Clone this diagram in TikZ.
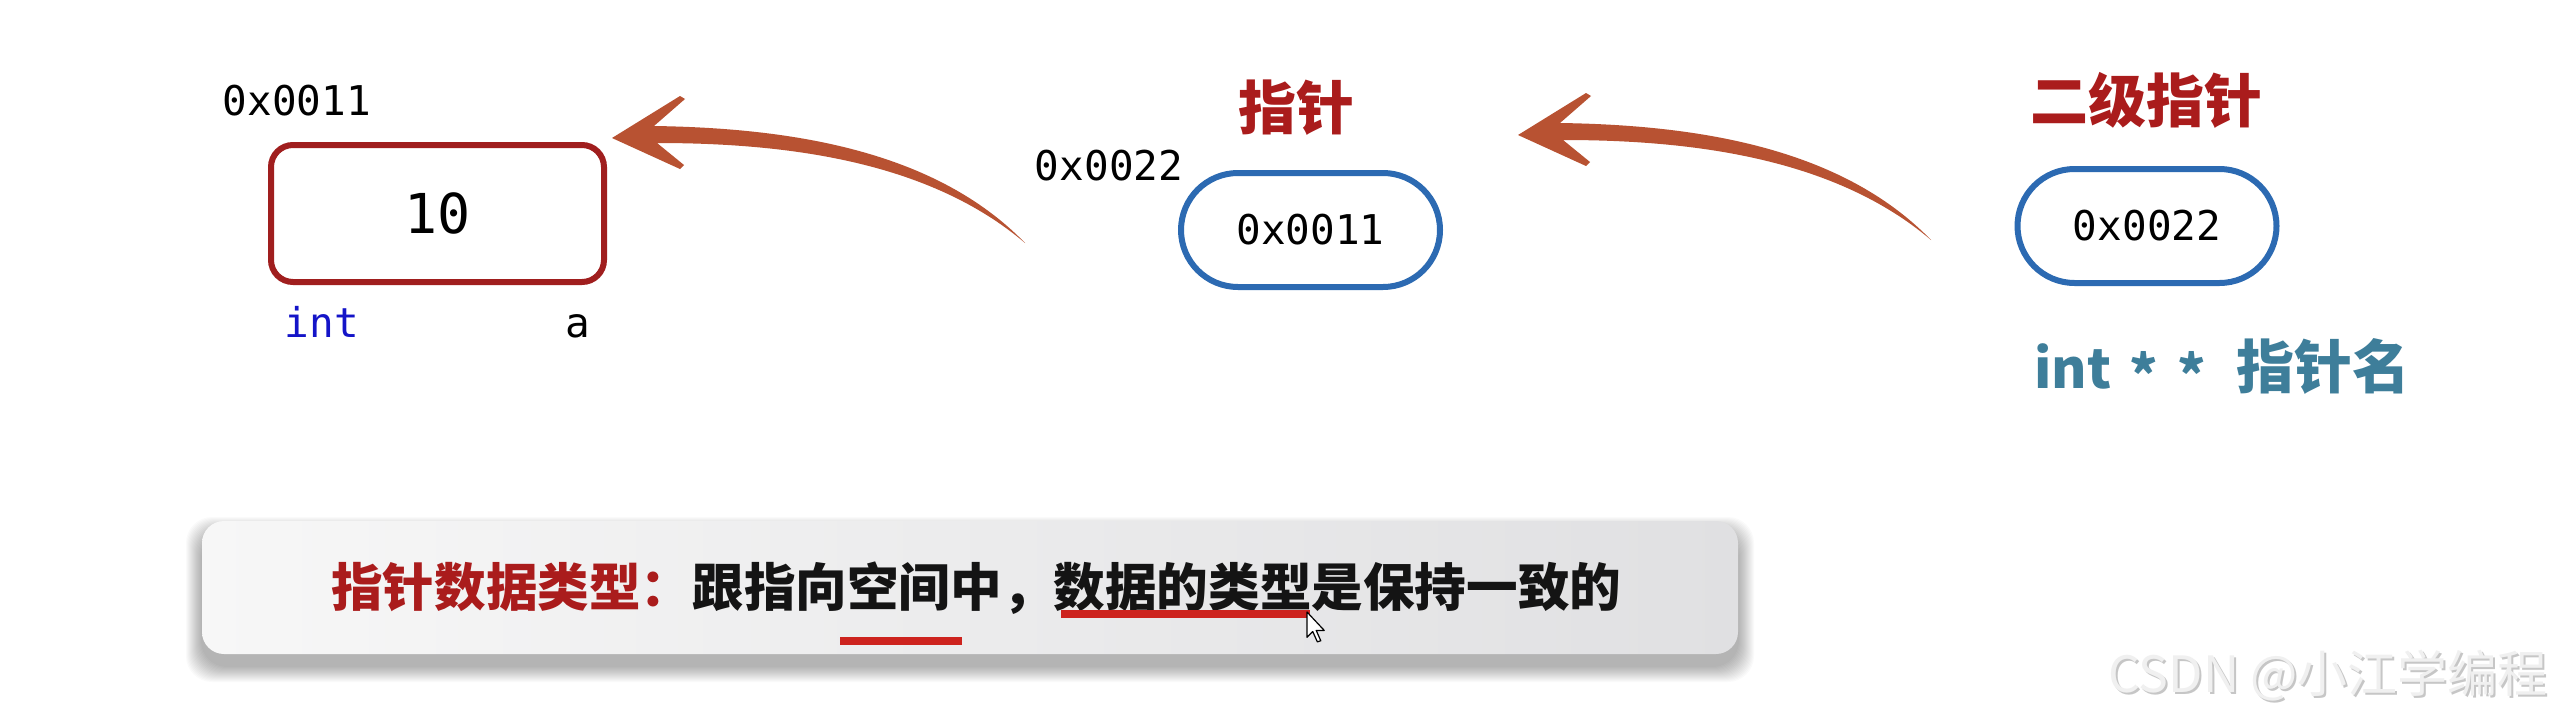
\documentclass[tikz,border=0pt]{standalone}
\usepackage{fontspec}
\newfontfamily\monof{DejaVu Sans Mono}
\newfontfamily\cjkf{Noto Sans CJK SC}
\usetikzlibrary{calc}
\definecolor{boxred}{RGB}{160,30,30}
\definecolor{ovalblue}{RGB}{44,106,178}
\definecolor{arrowc}{RGB}{184,82,50}
\definecolor{titlered}{RGB}{170,28,28}
\definecolor{intblue}{RGB}{20,20,200}
\definecolor{tealc}{RGB}{62,126,154}
\definecolor{ulred}{RGB}{205,35,30}
\definecolor{bannerR}{RGB}{224,224,226}
\definecolor{bannerL}{RGB}{247,247,247}
\tikzset{
  monotext/.style={font=\monof\fontsize{41}{46}\selectfont, inner sep=0pt, anchor=base},
  valbox/.style={draw=boxred, line width=6pt, rounded corners=22pt, minimum width=333pt,
    minimum height=137pt, inner sep=0pt, font=\monof\fontsize{55}{60}\selectfont},
  ptrbox/.style={draw=ovalblue, line width=6pt, minimum height=114pt, rounded corners=57pt,
    inner sep=0pt, font=\monof\fontsize{41}{46}\selectfont},
  titletext/.style={font=\cjkf\bfseries\fontsize{58}{64}\selectfont, text=titlered, inner sep=0pt, anchor=base},
  brusharrow/.pic={
    \fill[arrowc] (0,0) -- (68,-42) -- (73,-39) -- (42,-12)
      .. controls (178,-10) and (323,12) .. (413,105)
      .. controls (318,24) and (178,5) .. (45,5)
      -- (72,27) -- (68,31) -- cycle;
  },
  ulline/.style={draw=ulred, line width=8pt},
  wmark/.style={font=\cjkf\fontsize{50}{56}\selectfont, inner sep=0pt, anchor=base west}
}
\begin{document}
\begin{tikzpicture}[x=1pt,y=-1pt]
\useasboundingbox (0,0) rectangle (2552,710);
\fill[white] (0,0) rectangle (2552,710);

% value box
\node[valbox] (valA) at (437.5,213.5) {10};
\node[monotext] (addrA) at (297,115) {0x0011};
\node[monotext, text=intblue] (typeA) at (322,337) {int};
\node[monotext] (nameA) at (578,337) {a};

% pointer
\node[ptrbox, minimum width=259pt] (ptrP) at (1310.5,230) {0x0011};
\node[monotext] (addrP) at (1109,180) {0x0022};
\node[titletext] (tP) at (1296,129) {指针};

% pointer to pointer
\node[ptrbox, minimum width=259pt] (ptrPP) at (2147,226) {0x0022};
\node[titletext] (tPP) at (2146,122) {二级指针};
\node[font=\cjkf\bfseries\fontsize{54}{60}\selectfont, text=tealc, anchor=base west, inner sep=0pt]
  (declPP) at (2034,388) {int\hspace{18pt}\raisebox{-7pt}{*}\hspace{20pt}\raisebox{-7pt}{*}\hspace{30pt}{\fontsize{58}{64}\selectfont 指针名}};

% arrows
\coordinate (h1) at (612,138);
\coordinate (h2) at (1518,135);
\pic at (h1) {brusharrow};
\pic at (h2) {brusharrow};

% banner shadow
\foreach \i in {1,...,16}
  \fill[black, opacity=0.02, rounded corners=26pt] (202-\i,533-\i) rectangle (1738+\i,666+\i);
\shade[left color=bannerL, right color=bannerR, rounded corners=22pt] (202,521) rectangle (1738,654);
\node[font=\cjkf\bfseries\fontsize{51.6}{58}\selectfont, anchor=base west, inner sep=0pt]
  (msg) at (331,606) {\textcolor{titlered}{指针数据类型：}\textcolor{black!92}{跟指向空间中，数据的类型是保持一致的}};
\draw[ulline] (1061,614) -- (1310,614);
\draw[ulline] (840,641) -- (962,641);

% cursor
\begin{scope}[shift={(1307,612)}, scale=1.15]
  \filldraw[fill=white, draw=black, line width=1.2pt, line join=round]
    (0,0) -- (0,22) -- (5,17) -- (9,26) -- (12,25) -- (8,16) -- (15,16) -- cycle;
\end{scope}

% watermark
\node[wmark, text=gray!45] (wm2) at (2110,694) {CSDN @小江学编程};
\node[wmark, text=gray!12] (wm) at (2108,692) {CSDN @小江学编程};
\end{tikzpicture}
\end{document}
